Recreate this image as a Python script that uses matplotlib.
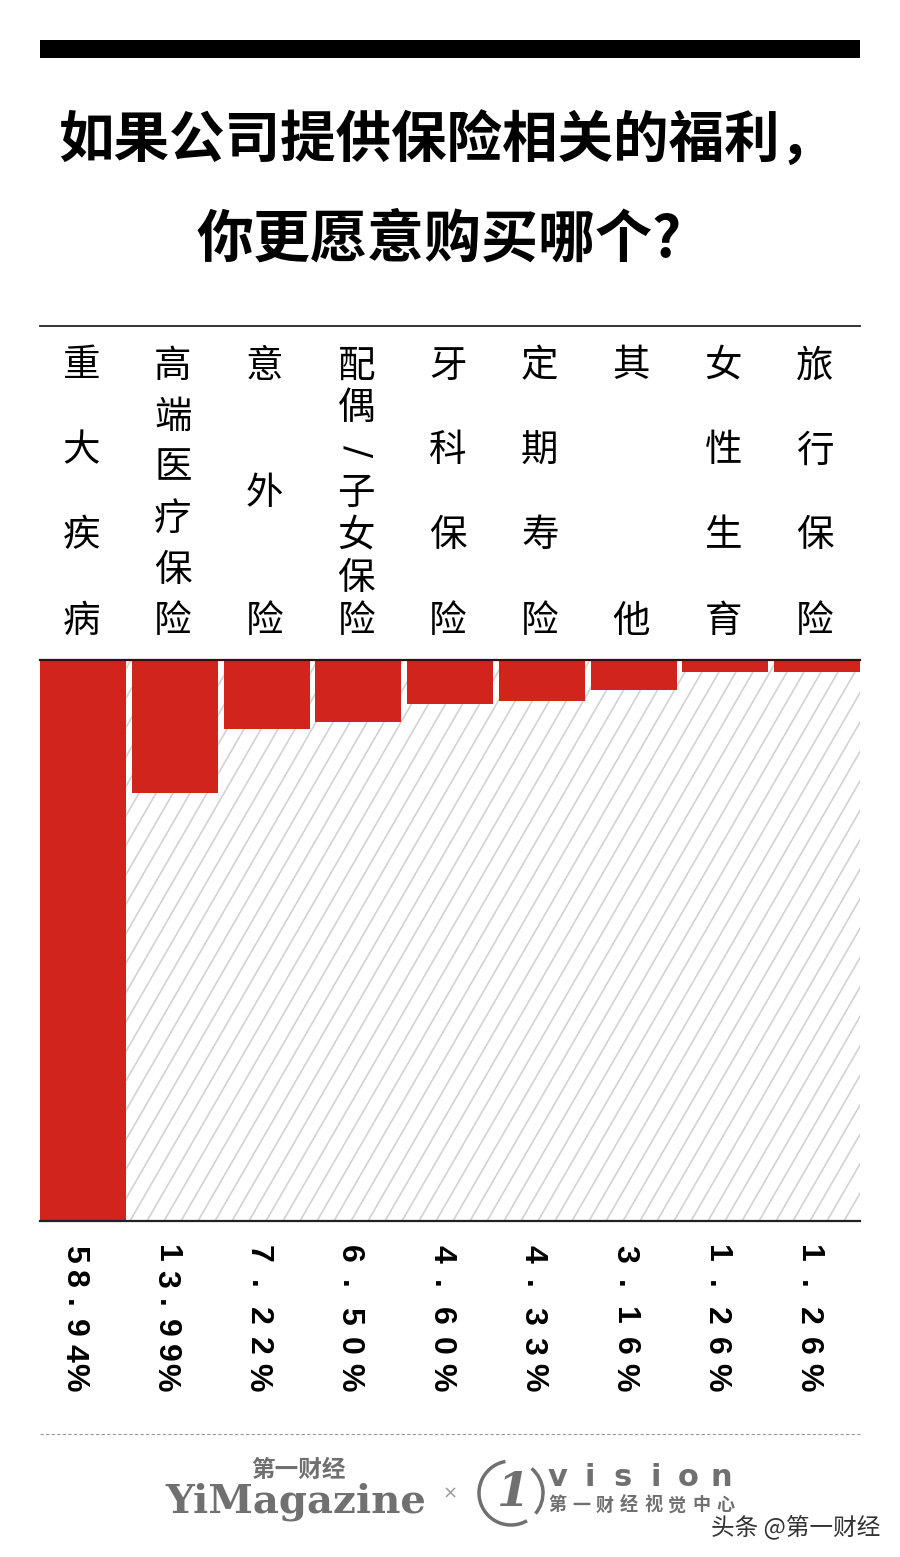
import matplotlib
matplotlib.use('Agg')
import matplotlib.pyplot as plt
from matplotlib.patches import Rectangle, Arc
import numpy as np

# chart data
categories = ['重大疾病', '高端医疗保险', '意外险', '配偶/子女保险', '牙科保险',
              '定期寿险', '其他', '女性生育', '旅行保险']
shares = [58.94, 13.99, 7.22, 6.50, 4.60, 4.33, 3.16, 1.26, 1.26]
title_lines = ['如果公司提供保险相关的福利，', '你更愿意购买哪个?']

W, H = 900, 1557
CJK = 'Noto Sans CJK SC'
RED = '#d0241c'
GREY = '#707070'


def fx(x):
    return x / W


def fy(y):
    return 1 - y / H


fig = plt.figure(figsize=(W / 100, H / 100), dpi=100)
fig.patch.set_facecolor('white')

# black bar on top
fig.patches.append(Rectangle((fx(40), fy(58)), 820 / W, 18 / H, transform=fig.transFigure,
                             facecolor='black', edgecolor='none'))

# title
fig.text(fx(58), fy(141), title_lines[0], family=[CJK, 'DejaVu Sans'], weight='bold',
         fontsize=40, ha='left', va='center')
fig.text(fx(197), fy(239), title_lines[1], family=[CJK, 'DejaVu Sans'], weight='bold',
         fontsize=41, ha='left', va='center')

# rule above the labels
fig.add_artist(plt.Line2D([fx(40), fx(860)], [fy(326), fy(326)], transform=fig.transFigure,
                          color='#222222', lw=1.3))

# bar area: bars 86 px wide, 91.75 px apart, filling 40..860
n = len(categories)
slot_px, bar_px = 91.75, 86.0
half = bar_px / 2 / slot_px
ax = fig.add_axes([fx(40), fy(1221), 820 / W, 561 / H])
ax.set_xlim(-half, n - 1 + half)
ax.set_ylim(59.0, 0)
ax.axis('off')

# grey diagonal hatch behind bars
slope_dx = (561 / np.tan(np.radians(60))) / 820
for off in np.arange(-0.45, 1.0, 17 / 820):
    ax.plot([off, off + slope_dx], [0, 1], transform=ax.transAxes,
            color='#d2d2d2', lw=1.2, zorder=1)

x = np.arange(n)
ax.bar(x, shares, width=bar_px / slot_px, color=RED, zorder=2)
ax.plot([0, 1], [1, 1], transform=ax.transAxes, color='#3a0d0a', lw=1.6, zorder=3, clip_on=False)
ax.plot([0, 1], [0, 0], transform=ax.transAxes, color='#222222', lw=1.6, zorder=3, clip_on=False)

for i, (cat, val) in enumerate(zip(categories, shares)):
    cx = 40 + bar_px / 2 + slot_px * i
    # vertical category label
    chars = list(cat)
    ys = np.linspace(366, 621, len(chars)) if len(chars) > 1 else [366]
    for ch, yy in zip(chars, ys):
        if ch == '/':
            fig.text(fx(cx - 2), fy(yy), ch, family='DejaVu Sans', fontsize=26,
                     ha='center', va='center', rotation=-90, rotation_mode='anchor')
        else:
            fig.text(fx(cx - 2), fy(yy), ch, family=[CJK, 'DejaVu Sans'], fontsize=27,
                     ha='center', va='center')
    # rotated percentage label
    lab = '{:.2f}%'.format(val)
    ys = np.linspace(1254, 1377, len(lab))
    for ch, yy in zip(lab, ys):
        fig.text(fx(cx - 9), fy(yy), ch, family='Liberation Sans', weight='bold', fontsize=23,
                 ha='center', va='center', rotation=-90, rotation_mode='anchor')

# footer
fig.add_artist(plt.Line2D([fx(40), fx(860)], [fy(1434), fy(1434)], transform=fig.transFigure,
                          color='#999999', lw=0.8, ls=(0, (3, 2))))
fig.text(fx(298), fy(1470), '第一财经', family=[CJK], weight='bold', fontsize=17,
         color=GREY, ha='center', va='center')
fig.text(fx(296), fy(1502), 'YiMagazine', family='DejaVu Serif', weight='bold', fontsize=29,
         color=GREY, ha='center', va='center')
fig.text(fx(450), fy(1494), '×', family='DejaVu Sans', fontsize=13, color='#999999',
         ha='center', va='center')

logo = fig.add_axes([fx(470), fy(1535), 82 / W, 82 / H])
logo.set_xlim(0, 82)
logo.set_ylim(0, 82)
logo.axis('off')
logo.add_patch(Arc((41, 42), 64, 64, theta1=100, theta2=300, color=GREY, lw=2.5))
logo.add_patch(Arc((41, 42), 64, 64, theta1=320, theta2=50, color=GREY, lw=2.5))
logo.text(43, 42, '1', family='DejaVu Serif', weight='bold', style='italic', fontsize=34,
          color=GREY, ha='center', va='center')

for i, ch in enumerate('vision'):
    fig.text(fx(557 + i * 32.8), fy(1478), ch, family='DejaVu Sans', weight='bold', fontsize=22,
             color=GREY, ha='center', va='center')
for i, ch in enumerate('第一财经视觉中心'):
    fig.text(fx(557 + i * 24.0), fy(1505), ch, family=[CJK], weight='bold', fontsize=13,
             color=GREY, ha='center', va='center')

fig.text(fx(880), fy(1527), '头条 @第一财经', family=[CJK, 'DejaVu Sans'], fontsize=17,
         color='#333333', ha='right', va='center')

fig.savefig('out.png', dpi=100, facecolor='white')
